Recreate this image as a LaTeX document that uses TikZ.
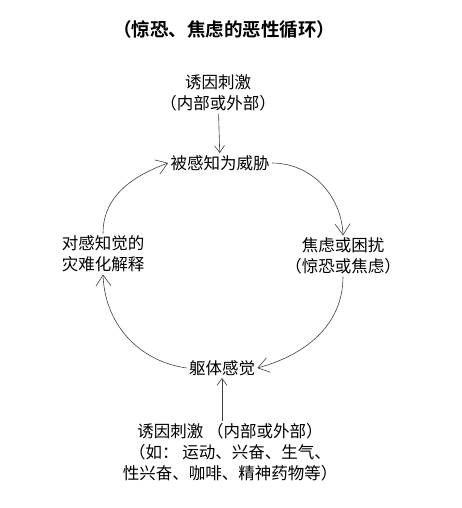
\documentclass[tikz,border=0pt]{standalone}
\usepackage{fontspec}
\setmainfont{Noto Sans CJK SC}[BoldFont={Noto Sans CJK SC Bold}]
\usetikzlibrary{arrows.meta}

\begin{document}
\begin{tikzpicture}[x=1pt,y=1pt,draw=black!75,line width=0.6pt]
    \tikzstyle{every node}=[font=\fontsize{16.5}{21}\selectfont,inner sep=2pt]
    \tikzstyle{stage}=[align=center]
    \tikzstyle{trigger}=[align=center]
    \tikzstyle{cycle arrow}=[-{Straight Barb[length=11pt,width=15pt]}]
    \tikzstyle{input arrow}=[-{Straight Barb[length=7pt,width=10pt]}]

    \useasboundingbox (0,0) rectangle (462,-508);

    % Draw the title
    \node[font=\fontsize{18.5}{22}\selectfont\bfseries] (title) at (224,-30) {（惊恐、焦虑的恶性循环）};

    % Draw the stages of the cycle
    \node[stage] (threat) at (220,-163) {被感知为威胁};
    \node[stage] (anxiety) at (343,-256) {焦虑或困扰\\（惊恐或焦虑）};
    \node[stage] (body) at (222,-368) {躯体感觉};
    \node[stage] (catas) at (103,-254) {对感知觉的\\灾难化解释};

    % Draw the triggers
    \node[trigger] (trigtop) at (218,-93) {诱因刺激\\（内部或外部）};
    \node[trigger] (trigbot) at (230,-452) {诱因刺激 （内部或外部）\\（如： 运动、兴奋、生气、\\性兴奋、咖啡、精神药物等）};

    % Connect the triggers with the cycle
    \draw[input arrow] (trigtop) -- (threat);
    \draw[input arrow] (trigbot.north -| body) -- (body);

    % Connect the stages round the cycle
    \draw[cycle arrow] (threat.east) to[out=0,in=92] (anxiety.north);
    \draw[cycle arrow] (anxiety.south) to[out=-90,in=15] (body.east);
    \draw[cycle arrow] (body.west) to[out=172,in=-88] (catas.south);
    \draw[cycle arrow] (catas.north) to[out=90,in=200] (threat.west);
\end{tikzpicture}
\end{document}
